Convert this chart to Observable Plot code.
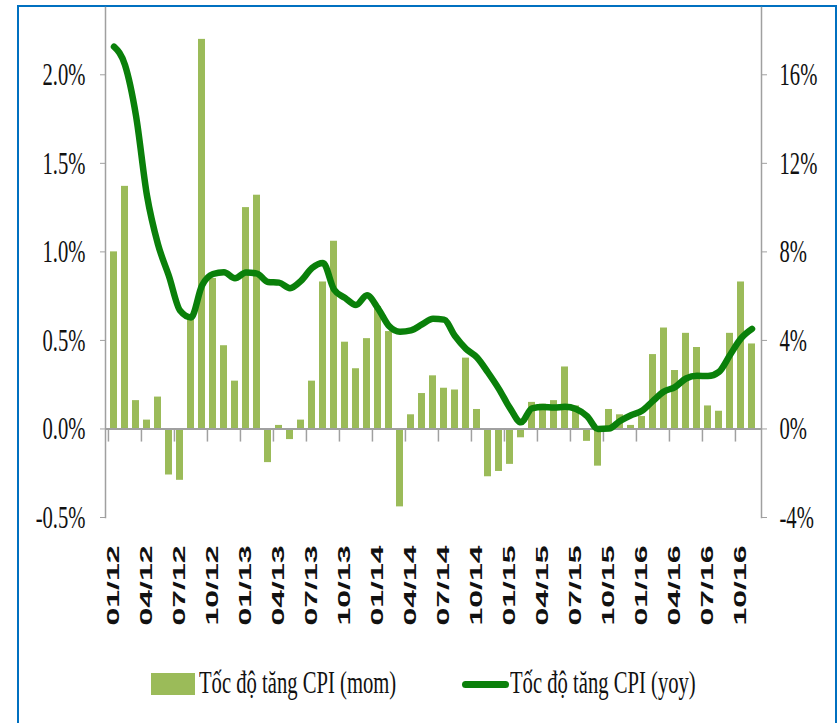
<!DOCTYPE html>
<html><head><meta charset="utf-8">
<script src="https://cdn.jsdelivr.net/npm/d3@7"></script>
<script src="https://cdn.jsdelivr.net/npm/@observablehq/plot@0.6"></script>
<style>
body{margin:0;background:#fff;}
#wrap{position:relative;width:840px;height:723px;overflow:hidden;background:#fff;}
#border{position:absolute;left:17px;top:5px;width:820px;height:760px;border:2px solid #0070c0;box-sizing:border-box;}
#chart{position:absolute;left:0;top:0;}
.legtxt{position:absolute;font-family:"Liberation Serif","Times New Roman",serif;font-size:32px;line-height:32px;color:#111;white-space:nowrap;transform:scaleX(0.645);transform-origin:0 0;}
.sw{position:absolute;}
</style></head><body>
<div id="wrap">
<div id="border"></div>
<div id="chart"></div>
<div class="sw" style="left:151px;top:673px;width:44px;height:22px;background:#9bbb59;"></div>
<div class="legtxt" style="left:199px;top:666px;">Tốc độ tăng CPI (mom)</div>
<div class="sw" style="left:462px;top:681px;width:47px;height:7px;border-radius:4px;background:#0a800a;"></div>
<div class="legtxt" style="left:510px;top:666px;">Tốc độ tăng CPI (yoy)</div>
</div>
<script>
const months = ["01/12","02/12","03/12","04/12","05/12","06/12","07/12","08/12","09/12","10/12","11/12","12/12",
"01/13","02/13","03/13","04/13","05/13","06/13","07/13","08/13","09/13","10/13","11/13","12/13",
"01/14","02/14","03/14","04/14","05/14","06/14","07/14","08/14","09/14","10/14","11/14","12/14",
"01/15","02/15","03/15","04/15","05/15","06/15","07/15","08/15","09/15","10/15","11/15","12/15",
"01/16","02/16","03/16","04/16","05/16","06/16","07/16","08/16","09/16","10/16","11/16"];
const mom = [1.00,1.37,0.16,0.05,0.18,-0.26,-0.29,0.63,2.20,0.85,0.47,0.27,
1.25,1.32,-0.19,0.02,-0.06,0.05,0.27,0.83,1.06,0.49,0.34,0.51,
0.69,0.55,-0.44,0.08,0.20,0.30,0.23,0.22,0.40,0.11,-0.27,-0.24,
-0.20,-0.05,0.15,0.14,0.16,0.35,0.13,-0.07,-0.21,0.11,0.08,0.02,
0.07,0.42,0.57,0.33,0.54,0.46,0.13,0.10,0.54,0.83,0.48];
const yoy = [17.27,16.44,14.15,10.54,8.34,6.90,5.35,5.04,6.48,7.00,7.08,6.81,
7.07,7.02,6.64,6.61,6.36,6.69,7.27,7.50,6.30,5.92,5.60,6.04,
5.45,4.65,4.39,4.45,4.72,4.98,4.94,4.20,3.62,3.23,2.55,1.80,
0.94,0.30,0.93,0.99,0.97,1.00,0.90,0.58,0.00,0.02,0.36,0.62,
0.82,1.27,1.69,1.89,2.28,2.40,2.39,2.58,3.34,4.09,4.52];
const tickLabels = ["01/12","04/12","07/12","10/12","01/13","04/13","07/13","10/13","01/14","04/14","07/14","10/14","01/15","04/15","07/15","10/15","01/16","04/16","07/16","10/16"];
const leftTicks = [-0.5,0,0.5,1.0,1.5,2.0];
const ratio = 8; // right axis = left axis * 8

const data = months.map((m,i)=>({month:m, mom:mom[i], yoy:yoy[i]}));
const W = 840, H = 640;
const step = (761-105)/months.length;

const svg = Plot.plot({
  width: W, height: H,
  marginLeft: 105, marginRight: 79, marginTop: 7, marginBottom: H-517,
  style: {background:"transparent", overflow:"visible", fontFamily:"'Liberation Serif', serif"},
  x: {type:"band", domain: months, paddingInner: 0.34, paddingOuter: 0.17, axis: null, label: null},
  y: {domain: [-0.5, 2.38], axis: null, label: null},
  marks: [
    Plot.barY(data, {x:"month", y:"mom", fill:"#9bbb59"}),
    Plot.ruleY([0], {stroke:"#a0a0a0", strokeWidth:2}),
    Plot.ruleX(tickLabels, {x: d=>d, y1: 0, y2: -0.074, stroke:"#a0a0a0", strokeWidth:1.5, dx: -step/2}),
    Plot.frame({anchor:"left", stroke:"#a0a0a0", strokeWidth:1.5}),
    Plot.frame({anchor:"right", stroke:"#a0a0a0", strokeWidth:1.5}),
    Plot.lineY(data, {x:"month", y: d=>d.yoy/ratio, stroke:"#0a800a", strokeWidth:6.5, strokeLinejoin:"round", strokeLinecap:"round", curve:"monotone-x"}),
    Plot.axisY({anchor:"left", label:null, ticks:leftTicks, tickFormat: d=>d.toFixed(1)+"%", tickSize:5, tickPadding:15, stroke:"#a0a0a0", fontSize:32, fontFamily:"'Liberation Serif', serif"}),
    Plot.axisY({anchor:"right", label:null, ticks:leftTicks, tickFormat: d=>Math.round(d*ratio)+"%", tickSize:5, tickPadding:13, stroke:"#a0a0a0", fontSize:32, fontFamily:"'Liberation Serif', serif"}),
    Plot.axisX({anchor:"bottom", label:null, ticks:tickLabels, tickSize:0, tickPadding:28, tickRotate:-90, fontSize:17, fontWeight:"bold", fontFamily:"'Liberation Sans', Arial, sans-serif"})
  ]
});
document.getElementById("chart").append(svg);
const s = d3.select(svg);
s.selectAll('g[aria-label="y-axis tick label"] text').each(function(){
  const L = this.getComputedTextLength();
  d3.select(this).attr("textLength", L*0.645).attr("lengthAdjust","spacingAndGlyphs").attr("fill","#111");
});
s.selectAll('g[aria-label="x-axis tick label"]').attr("font-weight","bold");
s.selectAll('g[aria-label="x-axis tick label"] text').attr("textLength", 80).attr("lengthAdjust","spacingAndGlyphs").attr("fill","#111");
</script>
</body></html>
